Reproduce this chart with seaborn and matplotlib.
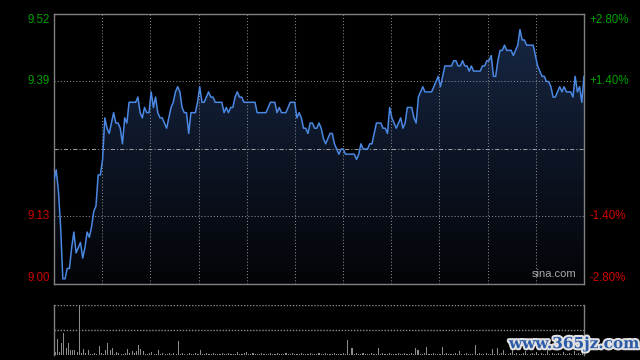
import numpy as np
import pandas as pd
import matplotlib
matplotlib.use("Agg")
import matplotlib.pyplot as plt
import matplotlib.patheffects as pe
import seaborn as sns

# intraday minute prices (241 points, 09:30 - 15:00)
prices = [
    9.20, 9.22, 9.18, 9.11, 9.01, 9.01, 9.03, 9.03, 9.07, 9.10,
    9.06, 9.07, 9.08, 9.05, 9.07, 9.10, 9.09, 9.11, 9.14, 9.15,
    9.21, 9.21, 9.24, 9.32, 9.30, 9.29, 9.31, 9.33, 9.31, 9.31,
    9.30, 9.27, 9.32, 9.31, 9.35, 9.35, 9.35, 9.35, 9.36, 9.33,
    9.32, 9.34, 9.33, 9.33, 9.37, 9.34, 9.36, 9.33, 9.32, 9.32,
    9.31, 9.30, 9.32, 9.34, 9.35, 9.37, 9.38, 9.37, 9.34, 9.33,
    9.33, 9.29, 9.33, 9.33, 9.33, 9.35, 9.38, 9.35, 9.35, 9.36,
    9.37, 9.36, 9.36, 9.35, 9.35, 9.35, 9.35, 9.33, 9.34, 9.33,
    9.34, 9.34, 9.36, 9.37, 9.36, 9.36, 9.35, 9.35, 9.35, 9.35,
    9.35, 9.35, 9.33, 9.33, 9.33, 9.33, 9.33, 9.34, 9.35, 9.35,
    9.35, 9.33, 9.34, 9.33, 9.33, 9.33, 9.34, 9.35, 9.35, 9.35,
    9.32, 9.33, 9.32, 9.30, 9.30, 9.29, 9.31, 9.31, 9.30, 9.30,
    9.31, 9.30, 9.28, 9.27, 9.28, 9.29, 9.29, 9.27, 9.26, 9.25,
    9.26, 9.26, 9.25, 9.25, 9.25, 9.25, 9.25, 9.24, 9.25, 9.27,
    9.26, 9.26, 9.26, 9.27, 9.27, 9.29, 9.31, 9.31, 9.31, 9.30,
    9.30, 9.29, 9.34, 9.32, 9.31, 9.30, 9.31, 9.32, 9.30, 9.31,
    9.34, 9.34, 9.34, 9.32, 9.31, 9.36, 9.37, 9.38, 9.37, 9.37,
    9.37, 9.37, 9.38, 9.39, 9.40, 9.38, 9.40, 9.42, 9.42, 9.42,
    9.42, 9.43, 9.43, 9.42, 9.42, 9.43, 9.42, 9.42, 9.41, 9.42,
    9.41, 9.41, 9.41, 9.41, 9.42, 9.42, 9.43, 9.43, 9.44, 9.40,
    9.40, 9.43, 9.45, 9.45, 9.46, 9.45, 9.45, 9.45, 9.44, 9.45,
    9.46, 9.49, 9.47, 9.47, 9.46, 9.46, 9.46, 9.46, 9.44, 9.42,
    9.41, 9.40, 9.40, 9.39, 9.39, 9.38, 9.36, 9.36, 9.37, 9.38,
    9.37, 9.38, 9.37, 9.37, 9.37, 9.36, 9.40, 9.37, 9.38, 9.35,
    9.40,
]

# minute volume (hundreds of lots)
volumes = [
    3, 16, 3, 12, 22, 7, 12, 5, 5, 5,
    3, 49, 2, 6, 2, 5, 1, 1, 2, 1,
    9, 2, 1, 5, 12, 5, 7, 1, 3, 2,
    1, 1, 2, 6, 2, 4, 2, 4, 10, 6,
    4, 1, 1, 2, 3, 1, 1, 5, 1, 2,
    1, 1, 2, 1, 2, 1, 14, 1, 2, 1,
    1, 2, 1, 1, 2, 1, 5, 1, 1, 2,
    1, 1, 2, 1, 1, 1, 2, 1, 1, 2,
    1, 1, 1, 3, 1, 1, 2, 3, 1, 1,
    2, 1, 1, 1, 2, 1, 1, 1, 2, 1,
    1, 2, 1, 1, 1, 2, 1, 1, 2, 1,
    1, 1, 2, 1, 1, 1, 2, 1, 1, 1,
    2, 1, 1, 2, 1, 1, 1, 2, 1, 1,
    1, 2, 1, 15, 1, 7, 1, 2, 1, 1,
    2, 1, 1, 1, 2, 1, 1, 7, 1, 2,
    1, 1, 2, 1, 1, 1, 2, 1, 1, 2,
    1, 1, 2, 1, 7, 5, 1, 1, 2, 8,
    1, 1, 2, 1, 1, 1, 8, 1, 2, 1,
    1, 1, 2, 1, 4, 1, 1, 2, 1, 1,
    1, 10, 1, 2, 1, 1, 2, 1, 1, 6,
    1, 7, 1, 2, 5, 1, 1, 2, 8, 1,
    2, 1, 1, 2, 4, 1, 1, 2, 1, 3,
    1, 2, 1, 1, 5, 1, 2, 1, 1, 2,
    1, 3, 1, 1, 2, 1, 4, 1, 2, 1,
    2,
]

prev_close = 9.26
left_ticks = [9.52, 9.39, 9.13, 9.00]
right_ticks = ["+2.80%", "+1.40%", "-1.40%", "-2.80%"]
tick_colors = ["#00a000", "#00a000", "#d00000", "#d00000"]

df = pd.DataFrame({"minute": np.arange(len(prices)), "price": prices, "volume": volumes})

sns.set_style("dark", {"axes.facecolor": "black", "figure.facecolor": "black"})
plt.rcParams["font.family"] = ["Liberation Sans", "DejaVu Sans"]

fig = plt.figure(figsize=(6.4, 3.6), dpi=100, facecolor="black")
ax = fig.add_axes([54 / 640, 1 - 284 / 360, 530 / 640, 270 / 360])
axv = fig.add_axes([54 / 640, 1 - 355 / 360, 530 / 640, 50 / 360])

ymin, ymax = 9.00, 9.52
n = len(prices) - 1

# gradient fill under price line
poly = ax.fill_between(df["minute"], df["price"], ymin, color="none", lw=0)
grad = np.linspace(0, 1, 256).reshape(-1, 1)
top = np.array([24, 40, 70]) / 255
bot = np.array([3, 4, 7]) / 255
img = top * (1 - grad[..., None]) + bot * grad[..., None]
im = ax.imshow(img, extent=[0, n, ymin, ymax], aspect="auto", origin="upper", zorder=1)
im.set_clip_path(poly.get_paths()[0], transform=ax.transData)

sns.lineplot(data=df, x="minute", y="price", ax=ax, color="#4a88e2", lw=1.1, zorder=3)

ax.set_xlim(0, n)
ax.set_ylim(ymin, ymax)

# grid
for g in np.linspace(0, n, 12)[1:-1]:
    ax.axvline(g, color="#8a8a8a", lw=0.75, ls=(0, (1, 2)), zorder=2)
for t in [9.39, 9.13]:
    ax.axhline(t, color="#8a8a8a", lw=0.75, ls=(0, (1, 2)), zorder=2)
ax.axhline(prev_close, color="#9a9a9a", lw=0.75, ls=(0, (4, 2, 1, 2)), zorder=2)

for s in ax.spines.values():
    s.set_visible(True)
    s.set_color("#808080")
    s.set_linewidth(1.0)
ax.set_xticks([])
ax.set_yticks([])
ax.set_xlabel("")
ax.set_ylabel("")

# axis labels
offsets = [-6, 0, 0, 6]
for val, pct, col, off in zip(left_ticks, right_ticks, tick_colors, offsets):
    ax.annotate(f"{val:.2f}", (0, val), xycoords=("axes fraction", "data"),
                xytext=(-3, off * 0.72), textcoords="offset points",
                ha="right", va="center", color=col, fontsize=8.3)
    ax.annotate(pct, (1, val), xycoords=("axes fraction", "data"),
                xytext=(4, off * 0.72), textcoords="offset points",
                ha="left", va="center", color=col, fontsize=8.3)

ax.text(0.985, 0.018, "sina.com", transform=ax.transAxes, ha="right", va="bottom",
        color="#a8a8a8", fontsize=8, zorder=4)

# volume panel
sns.barplot(data=df, x="minute", y="volume", ax=axv, native_scale=True,
            color="#8c8c8c", width=0.5, linewidth=0, saturation=1)
vmax = max(volumes)
axv.set_xlim(-0.5, n + 0.5)
axv.set_ylim(0, vmax)
axv.axhline(vmax, color="#8a8a8a", lw=1.0, ls=(0, (1, 1.2)))
axv.axhline(vmax / 2, color="#8a8a8a", lw=1.0, ls=(0, (1, 1.2)))
for k in ["left", "right"]:
    axv.spines[k].set_visible(True)
    axv.spines[k].set_color("#808080")
    axv.spines[k].set_linewidth(1.0)
axv.spines["top"].set_visible(False)
axv.spines["bottom"].set_visible(False)
axv.set_xticks([])
axv.set_yticks([])
axv.set_xlabel("")
axv.set_ylabel("")

fig.text(0.897, 0.044, "www.365jz.com", ha="center", va="center", color="#2a5aa8",
         fontsize=11, fontweight="bold", family="DejaVu Serif",
         path_effects=[pe.withStroke(linewidth=3, foreground="#e0e0e0")])

fig.savefig("out.png", dpi=100, facecolor="black")
